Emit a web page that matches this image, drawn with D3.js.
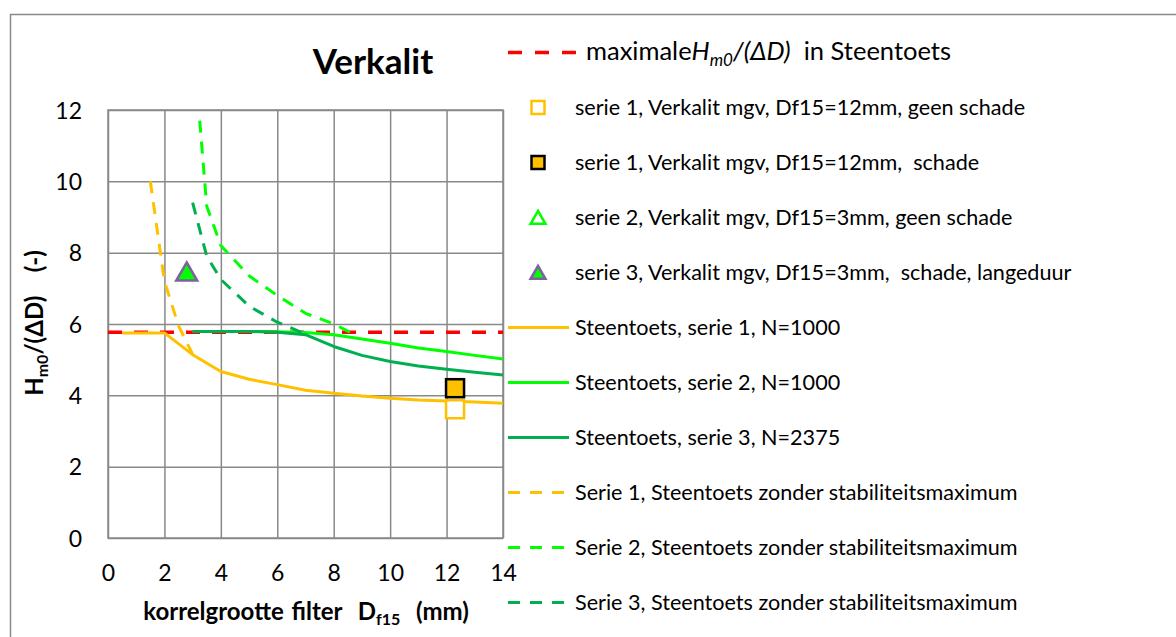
<!DOCTYPE html>
<html><head><meta charset="utf-8">
<script src="https://cdn.jsdelivr.net/npm/d3@7"></script>
<style>
body{margin:0;background:#fff}
svg{display:block}
text{font-family:Lato,"Noto Sans",sans-serif;white-space:pre;fill:#000}
</style>
</head><body>
<svg id="c" width="1176" height="637"></svg>
<script>
// ---- data ----
const chartTitle = "Verkalit";
const xTicks = [0, 2, 4, 6, 8, 10, 12, 14];
const yTicks = [0, 2, 4, 6, 8, 10, 12];

const maxX = [0, 14];
const maxY = [5.77, 5.77];

const serie1X = [0.5, 2, 3, 4, 5, 6, 7, 8, 9, 10, 11, 12, 13, 14];
const serie1Y = [5.75, 5.75, 5.14, 4.67, 4.45, 4.30, 4.14, 4.06, 3.98, 3.92, 3.87, 3.84, 3.81, 3.78];

const serie2X = [3, 4, 5, 6, 7, 8, 9, 10, 11, 12, 13, 14];
const serie2Y = [5.79, 5.79, 5.79, 5.78, 5.76, 5.70, 5.58, 5.46, 5.33, 5.23, 5.12, 5.02];

const serie3X = [3, 4, 5, 6, 7, 8, 9, 10, 11, 12, 13, 14];
const serie3Y = [5.79, 5.79, 5.79, 5.77, 5.70, 5.37, 5.12, 4.95, 4.82, 4.73, 4.65, 4.57];

const serie1NoMaxX = [1.5, 2, 2.5, 3];
const serie1NoMaxY = [10.0, 7.2, 5.95, 5.15];

const serie2NoMaxX = [3.25, 3.5, 4, 5, 6, 7, 8, 8.7];
const serie2NoMaxY = [11.7, 9.3, 8.2, 7.35, 6.8, 6.3, 6.0, 5.72];

const serie3NoMaxX = [3, 3.5, 4, 5, 6, 7];
const serie3NoMaxY = [9.4, 7.9, 7.25, 6.5, 6.05, 5.72];

const s1GeenX = [12.3], s1GeenY = [3.61];
const s1SchadeX = [12.3], s1SchadeY = [4.2];
const s2GeenX = [], s2GeenY = [];
const s3SchadeX = [2.79], s3SchadeY = [7.47];

const legendLabels = [
  "maximale",
  "serie 1, Verkalit mgv, Df15=12mm, geen schade",
  "serie 1, Verkalit mgv, Df15=12mm,  schade",
  "serie 2, Verkalit mgv, Df15=3mm, geen schade",
  "serie 3, Verkalit mgv, Df15=3mm,  schade, langeduur",
  "Steentoets, serie 1, N=1000",
  "Steentoets, serie 2, N=1000",
  "Steentoets, serie 3, N=2375",
  "Serie 1, Steentoets zonder stabiliteitsmaximum",
  "Serie 2, Steentoets zonder stabiliteitsmaximum",
  "Serie 3, Steentoets zonder stabiliteitsmaximum"
];

// ---- styles ----
const ORANGE = "#FFC000", LGREEN = "#00FF00", DGREEN = "#00B050", RED = "#FF0000";
const GRID = "#898989", PURPLE = "#7F60A0";
const FS = 21.6;

const svg = d3.select("#c");
const m = {l: 108, r: 503, t: 110, b: 538};
const x = d3.scaleLinear().domain([0, 14]).range([m.l, m.r]);
const y = d3.scaleLinear().domain([0, 12]).range([m.b, m.t]);

// outer chart border
svg.append("rect").attr("x", 10.5).attr("y", 14.5).attr("width", 1300).attr("height", 800)
  .attr("fill", "none").attr("stroke", GRID).attr("stroke-width", 1.5);

// grid via axes
const gx = svg.append("g").attr("transform", `translate(0,${m.b})`)
  .call(d3.axisBottom(x).tickValues(xTicks).tickSize(-(m.b - m.t)).tickFormat(d3.format("d")));
const gy = svg.append("g").attr("transform", `translate(${m.l},0)`)
  .call(d3.axisLeft(y).tickValues(yTicks).tickSize(-(m.r - m.l)).tickFormat(d3.format("d")));
[gx, gy].forEach(g => {
  g.select(".domain").remove();
  g.selectAll("line").attr("stroke", GRID).attr("stroke-width", 1.5);
  g.selectAll("text").attr("font-size", 23).attr("font-family", "Lato").attr("fill", "#000");
});
gx.selectAll("text").attr("y", 35).attr("dy", "0.35em");
gy.selectAll("text").attr("x", -26).attr("dy", "0.35em");
svg.append("rect").attr("x", m.l).attr("y", m.t).attr("width", m.r - m.l).attr("height", m.b - m.t)
  .attr("fill", "none").attr("stroke", GRID).attr("stroke-width", 1.5);

// lines
const line = d3.line().x(d => x(d[0])).y(d => y(d[1]));
function drawLine(xs, ys, color, dash, w) {
  svg.append("path").datum(d3.zip(xs, ys)).attr("d", line)
    .attr("fill", "none").attr("stroke", color).attr("stroke-width", w || 3)
    .attr("stroke-dasharray", dash || null).attr("stroke-linejoin", "round");
}
drawLine(maxX, maxY, RED, "14,12", 3.5);
drawLine(serie1X, serie1Y, ORANGE);
drawLine(serie2X, serie2Y, LGREEN);
drawLine(serie3X, serie3Y, DGREEN);
drawLine(serie1NoMaxX, serie1NoMaxY, ORANGE, "12,9");
drawLine(serie2NoMaxX, serie2NoMaxY, LGREEN, "12,9");
drawLine(serie3NoMaxX, serie3NoMaxY, DGREEN, "12,9");

// markers
function squares(xs, ys, fill, stroke, s) {
  svg.append("g").selectAll("rect").data(d3.zip(xs, ys)).join("rect")
    .attr("x", d => x(d[0]) - s / 2).attr("y", d => y(d[1]) - s / 2)
    .attr("width", s).attr("height", s)
    .attr("fill", fill).attr("stroke", stroke).attr("stroke-width", 2.5);
}
function triangles(xs, ys, fill, stroke, size) {
  svg.append("g").selectAll("path").data(d3.zip(xs, ys)).join("path")
    .attr("d", d3.symbol().type(d3.symbolTriangle).size(size))
    .attr("transform", d => `translate(${x(d[0])},${y(d[1]) + 3})`)
    .attr("fill", fill).attr("stroke", stroke).attr("stroke-width", 2.5);
}
squares(s1GeenX, s1GeenY, "#fff", ORANGE, 18);
squares(s1SchadeX, s1SchadeY, ORANGE, "#000", 18);
triangles(s2GeenX, s2GeenY, "#fff", LGREEN, 190);
triangles(s3SchadeX, s3SchadeY, LGREEN, PURPLE, 190);

// title
svg.append("text").attr("x", 373).attr("y", 62).attr("dy", "0.35em")
  .attr("text-anchor", "middle").attr("font-size", 35).attr("font-weight", "bold").text(chartTitle);

// axis titles
const xt = svg.append("text").attr("x", 306).attr("y", 620).attr("text-anchor", "middle")
  .attr("font-size", 24).attr("font-weight", "bold").attr("word-spacing", 2);
xt.append("tspan").text("korrelgrootte filter  D");
xt.append("tspan").attr("font-size", 16).attr("dy", 5).text("f15");
xt.append("tspan").attr("dy", -5).text("  (mm)");

const yt = svg.append("text").attr("transform", "translate(43,323) rotate(-90)")
  .attr("text-anchor", "middle").attr("font-size", 24).attr("font-weight", "bold");
yt.append("tspan").text("H");
yt.append("tspan").attr("font-size", 16).attr("dy", 5).text("m0");
yt.append("tspan").attr("dy", -5).text("/(ΔD)    (-)");

// legend
const rowY = i => 52.5 + i * 55;
const lg = svg.append("g");
// row 0: red dashed
lg.append("line").attr("x1", 508).attr("x2", 577).attr("y1", rowY(0)).attr("y2", rowY(0))
  .attr("stroke", RED).attr("stroke-width", 3.5).attr("stroke-dasharray", "14,13");
const t0 = lg.append("text").attr("x", 586).attr("y", rowY(0) - 1).attr("dy", "0.35em").attr("font-size", 25.5);
t0.append("tspan").text(legendLabels[0]);
t0.append("tspan").attr("font-style", "italic").text("H");
t0.append("tspan").attr("font-style", "italic").attr("font-size", 17).attr("dy", 6).text("m0");
t0.append("tspan").attr("font-style", "italic").attr("dy", -6).text("/(ΔD)");
t0.append("tspan").text("  in Steentoets");

// marker rows
const mk = [
  {type: "sq", fill: "#fff", stroke: ORANGE},
  {type: "sq", fill: ORANGE, stroke: "#000"},
  {type: "tri", fill: "#fff", stroke: LGREEN},
  {type: "tri", fill: LGREEN, stroke: PURPLE}
];
mk.forEach((d, i) => {
  const cy = rowY(i + 1);
  if (d.type === "sq") {
    lg.append("rect").attr("x", 538 - 6.5).attr("y", cy - 6.5).attr("width", 13).attr("height", 13)
      .attr("fill", d.fill).attr("stroke", d.stroke).attr("stroke-width", 2.5);
  } else {
    lg.append("path").attr("d", d3.symbol().type(d3.symbolTriangle).size(95))
      .attr("transform", `translate(538,${cy + 2})`)
      .attr("fill", d.fill).attr("stroke", d.stroke).attr("stroke-width", 2.5);
  }
});
// line rows
const ln = [
  {c: ORANGE, dash: null}, {c: LGREEN, dash: null}, {c: DGREEN, dash: null},
  {c: ORANGE, dash: "12,10"}, {c: LGREEN, dash: "12,10"}, {c: DGREEN, dash: "12,10"}
];
ln.forEach((d, i) => {
  const cy = rowY(i + 5);
  lg.append("line").attr("x1", 508).attr("x2", d.dash ? 568 : 569).attr("y1", cy).attr("y2", cy)
    .attr("stroke", d.c).attr("stroke-width", 3).attr("stroke-dasharray", d.dash);
});
legendLabels.slice(1).forEach((t, i) => {
  lg.append("text").attr("x", 575).attr("y", rowY(i + 1)).attr("dy", "0.35em")
    .attr("font-size", FS).text(t);
});
</script>
</body></html>
